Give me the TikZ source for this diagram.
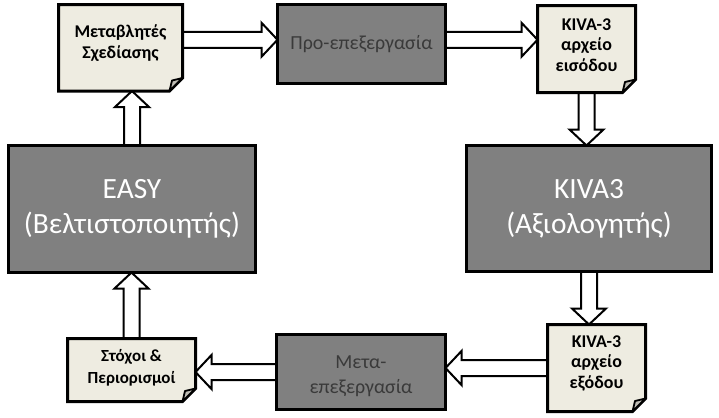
\documentclass[tikz,border=0pt]{standalone}
\usepackage{fontspec}
\setmainfont{Carlito}
\usetikzlibrary{calc,backgrounds}
\pgfdeclarelayer{arrowlayer}
\pgfsetlayers{arrowlayer,background,main}
\definecolor{notefill}{HTML}{EEECE1}
\definecolor{foldfill}{HTML}{BEBCB4}
\definecolor{boxfill}{HTML}{808080}
\definecolor{boxtext}{HTML}{3A3A3A}
\tikzset{
  notebox/.style={outer sep=0pt, inner sep=0pt, align=center, text=black,
    font=\bfseries\fontsize{18}{21}\selectfont},
  graybox/.style={draw=black, line width=3bp, fill=boxfill, outer sep=0pt,
    inner sep=0pt, align=center},
  smalltext/.style={text=boxtext, font=\fontsize{20}{25}\selectfont},
  bigtext/.style={text=white, font=\fontsize{29.5}{35}\selectfont},
  notedraw/.style={fill=notefill, draw=black, line width=3bp, line join=miter},
  folddraw/.style={fill=foldfill, draw=black, line width=1.8bp, line join=round},
  blockarr/.style={fill=white, draw=black, line width=2bp, line join=miter}
}
\newcommand\noteshape[1]{%
  \filldraw[notedraw] (#1.north west) -- (#1.north east) -- ([yshift=13bp]#1.south east)
    -- ([xshift=-13bp]#1.south east) -- (#1.south west) -- cycle;
  \filldraw[folddraw] ([yshift=13bp]#1.south east) -- ([xshift=-13bp]#1.south east)
    -- ([xshift=-10.5bp,yshift=10.5bp]#1.south east) -- cycle;}
\newcommand\blockarrow[2]{%
  \path (#1) coordinate (ba-s) (#2) coordinate (ba-t);
  \path ($(ba-t)!16bp!(ba-s)$) coordinate (ba-b);
  \draw[blockarr] ($(ba-s)!8bp!90:(ba-t)$) -- ($(ba-b)!8bp!-90:(ba-s)$)
    -- ($(ba-b)!17bp!-90:(ba-s)$) -- (ba-t) -- ($(ba-b)!17bp!90:(ba-s)$)
    -- ($(ba-b)!8bp!90:(ba-s)$) -- ($(ba-s)!8bp!-90:(ba-t)$) -- cycle;}
\begin{document}
\begin{tikzpicture}[x=1bp, y=-1bp]
\useasboundingbox (0,0) rectangle (719,417);
% nodes
\node[notebox, minimum width=124bp, minimum height=86.5bp] (vars) at (120.5,47.75) {Μεταβλητές\\Σχεδίασης\\[-9bp]\mbox{}};
\node[graybox, smalltext, minimum width=168bp, minimum height=78.5bp] (pre) at (361.5,43.75) {Προ-επεξεργασία};
\node[notebox, minimum width=98bp, minimum height=87bp] (kin) at (586.5,49) {KIVA-3\\αρχείο\\εισόδου\\[-13bp]\mbox{}};
\node[graybox, bigtext, minimum width=245bp, minimum height=126bp] (kiva) at (589,208.5) {KIVA3\\(Αξιολογητής)};
\node[notebox, minimum width=98bp, minimum height=87bp] (kout) at (596.5,368) {KIVA-3\\αρχείο\\εξόδου\\[-9bp]\mbox{}};
\node[graybox, smalltext, minimum width=169bp, minimum height=75bp] (post) at (361,372) {\mbox{}\\[-3bp]Μετα-\\επεξεργασία};
\node[notebox, font=\bfseries\fontsize{17}{22}\selectfont, minimum width=128bp, minimum height=63bp] (goals) at (131.5,370) {Στόχοι \&\\Περιορισμοί\\[-14bp]\mbox{}};
\node[graybox, bigtext, minimum width=247bp, minimum height=127bp] (easy) at (132,209) {EASY\\(Βελτιστοποιητής)};
% note shapes
\begin{pgfonlayer}{background}
  \noteshape{vars}
  \noteshape{kin}
  \noteshape{kout}
  \noteshape{goals}
\end{pgfonlayer}
% connectors
\begin{pgfonlayer}{arrowlayer}
  \fill[white] (0,0) rectangle (719,417);
  \coordinate (a1) at ([yshift=8bp]vars.east);
  \coordinate (a2) at ([yshift=4bp]pre.east);
  \blockarrow{a1}{a1 -| pre.west}
  \blockarrow{a2}{a2 -| kin.west}
  \blockarrow{kin.south}{kin.south |- kiva.north}
  \blockarrow{kiva.south}{kiva.south |- kout.north}
  \blockarrow{kout.west}{kout.west -| post.east}
  \blockarrow{post.west}{post.west -| goals.east}
  \blockarrow{goals.north}{goals.north |- easy.south}
  \blockarrow{easy.north}{easy.north |- vars.south}
\end{pgfonlayer}
\end{tikzpicture}
\end{document}
